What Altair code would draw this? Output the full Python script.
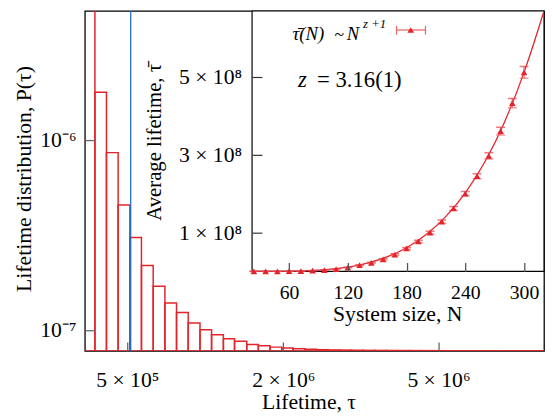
import altair as alt
import pandas as pd

# ---------------- data ----------------
# histogram bin edges (lifetime tau) and heights P(tau) in units of 1e-6
bin_edges = [2.85e5, 3.35e5, 3.89e5, 4.49e5, 5.15e5, 5.86e5, 6.64e5, 7.48e5, 8.38e5, 9.35e5,
             1.04e6, 1.15e6, 1.27e6, 1.39e6, 1.53e6, 1.67e6, 1.82e6, 1.98e6, 2.14e6, 2.32e6,
             2.50e6, 2.70e6, 2.90e6, 3.11e6, 3.33e6, 3.56e6, 3.80e6, 4.05e6, 4.31e6, 4.58e6,
             4.87e6, 5.16e6, 5.47e6, 5.78e6, 6.11e6, 6.45e6, 6.80e6, 7.17e6, 7.55e6, 7.94e6,
             8.34e6]
p_tau_e6 = [2.2, 1.226, 0.94, 0.692, 0.538, 0.405, 0.307, 0.227, 0.182, 0.132,
            0.100, 0.077, 0.058, 0.046, 0.030, 0.024, 0.018, 0.0135, 0.010, 0.0075,
            0.0058, 0.0047, 0.0040, 0.0033, 0.0028, 0.0024, 0.0021, 0.0018, 0.0016, 0.0014,
            0.0012, 0.0011, 0.0010, 0.0009, 0.0008, 0.0007, 0.0007, 0.0006, 0.0006, 0.0005]
blue_line_tau = 5.2e5

# inset: average lifetime vs system size (units of 1e8)
N_sizes = [24, 36, 48, 60, 72, 84, 96, 108, 120, 132, 144, 156,
           168, 180, 192, 204, 216, 228, 240, 252, 264, 276, 288, 300]
tau_mean_e8 = [0.0005, 0.001, 0.003, 0.006, 0.010, 0.020, 0.035, 0.060, 0.100, 0.160, 0.220, 0.310,
               0.430, 0.590, 0.770, 1.000, 1.280, 1.620, 2.000, 2.450, 2.970, 3.610, 4.330, 5.120]
tau_err_e8 = [0.003, 0.003, 0.003, 0.003, 0.003, 0.003, 0.003, 0.008, 0.010, 0.012, 0.015, 0.018,
              0.022, 0.026, 0.030, 0.035, 0.040, 0.048, 0.055, 0.065, 0.080, 0.100, 0.120, 0.150]
fit_N = [22.15, 40, 60, 80, 100, 120, 140, 160, 180, 200, 220, 240, 260, 280, 300, 310, 320.4]
fit_tau_e8 = [0.0003, 0.001, 0.006, 0.021, 0.053, 0.11, 0.215, 0.375, 0.61, 0.95, 1.41, 2.02,
              2.82, 3.84, 5.12, 5.87, 6.70]

x_tick_vals = [5e5, 2e6, 5e6]
x_tick_text = ["5 × 10⁵", "2 × 10⁶", "5 × 10⁶"]
y_tick_vals = [1e-7, 1e-6]
y_tick_text = ["10⁻⁷", "10⁻⁶"]
inset_x_ticks = [60, 120, 180, 240, 300]
inset_y_vals = [1e8, 3e8, 5e8]
inset_y_text = ["1 × 10⁸", "3 × 10⁸", "5 × 10⁸"]

# ---------------- styling ----------------
RED = "#e3242b"
PINK = "#ec6a70"
BLUE = "#1f6fc0"
FONT = "Liberation Serif"
TAU_BAR = "\u03c4\u0304"

W, H = 466, 345
IX0, IY0 = 169.7, 264.3  # inset left edge / bottom edge inside the plot area

XMAIN = alt.Scale(type="pow", exponent=0.36, domain=[2.92e5, 8.13e6], nice=False, zero=False)
YMAIN = alt.Scale(type="linear", domain=[0, 1.6114e-6], nice=False, zero=False)
XIN = alt.Scale(type="linear", domain=[22.15, 320.4], range=[IX0, W], nice=False, zero=False)
YIN = alt.Scale(type="linear", domain=[0, 6.70e8], range=[IY0, 0], nice=False, zero=False)


def lab_expr(vals, texts):
    e = "''"
    for v, t in reversed(list(zip(vals, texts))):
        e = f"abs(datum.value - {v!r}) < {abs(v) * 1e-6!r} ? '{t}' : {e}"
    return e


hist = pd.DataFrame({
    "lo": bin_edges[:-1],
    "hi": bin_edges[1:],
    "p": [v * 1e-6 for v in p_tau_e6],
    "zero": [0.0] * len(p_tau_e6),
})

ins = pd.DataFrame({
    "N": N_sizes,
    "tau": [v * 1e8 for v in tau_mean_e8],
    "lo": [(m - e) * 1e8 for m, e in zip(tau_mean_e8, tau_err_e8)],
    "hi": [(m + e) * 1e8 for m, e in zip(tau_mean_e8, tau_err_e8)],
})
fit = pd.DataFrame({"N": fit_N, "tau": [v * 1e8 for v in fit_tau_e8]})

# ---------------- main histogram ----------------
bars = alt.Chart(hist).mark_rect(
    fill="white", fillOpacity=0, stroke=RED, strokeWidth=1.5, clip=True
).encode(
    x=alt.X("lo:Q", scale=XMAIN, axis=alt.Axis(
        orient="bottom", values=x_tick_vals, labelExpr=lab_expr(x_tick_vals, x_tick_text),
        ticks=False, tickSize=0, domain=False, grid=False, labelPadding=36,
        labelBaseline="alphabetic", title="Lifetime, τ", titleFontSize=22,
        titleX=227, titleY=58.5, titleBaseline="alphabetic", titleAlign="center", zindex=1)),
    x2="hi:Q",
    y=alt.Y("p:Q", scale=YMAIN, axis=alt.Axis(
        orient="left", values=y_tick_vals, labelExpr=lab_expr(y_tick_vals, y_tick_text),
        ticks=False, tickSize=0, domain=False, grid=False, labelPadding=9,
        labelBaseline="middle", title="Lifetime distribution, P(τ)", titleAngle=-90,
        titleFontSize=22, titleX=-55, titleY=170, titleBaseline="alphabetic",
        titleAlign="center", zindex=1)),
    y2="zero:Q",
)

main_ticks = alt.Chart(hist).mark_point(opacity=0, clip=True).encode(
    x=alt.X("lo:Q", scale=XMAIN, axis=alt.Axis(
        orient="top", offset=-H, values=x_tick_vals, labels=False, ticks=True, tickSize=9,
        tickColor="#666666", tickWidth=1.3, domain=False, grid=False, title=None, zindex=1)),
    y=alt.Y("p:Q", scale=YMAIN, axis=alt.Axis(
        orient="right", offset=-W, values=y_tick_vals, labels=False, ticks=True, tickSize=10,
        tickColor="#666666", tickWidth=1.3, domain=False, grid=False, title=None, zindex=1)),
)

blue = alt.Chart(pd.DataFrame({"t": [blue_line_tau]})).mark_rule(
    color=BLUE, strokeWidth=1.3
).encode(x=alt.X("t:Q", scale=XMAIN, axis=None))

# ---------------- inset ----------------
frame = alt.Chart(pd.DataFrame({"x0": [22.15], "x1": [320.4], "y0": [0.0], "y1": [6.70e8]})).mark_rect(
    fill="white", stroke="black", strokeWidth=1.2
).encode(
    x=alt.X("x0:Q", scale=XIN, axis=alt.Axis(
        orient="bottom", offset=-(H - IY0), values=inset_x_ticks, ticks=False, tickSize=0,
        domain=False, grid=False, labelPadding=27.7, labelBaseline="alphabetic",
        labelFontSize=20,
        title="System size, N", titleFontSize=22, titleX=317, titleY=49.9,
        titleBaseline="alphabetic", titleAlign="center", zindex=1)),
    x2="x1:Q",
    y=alt.Y("y0:Q", scale=YIN, axis=alt.Axis(
        orient="left", offset=-IX0, values=inset_y_vals,
        labelExpr=lab_expr(inset_y_vals, inset_y_text), ticks=False, tickSize=0,
        domain=False, grid=False, labelPadding=10.7, labelBaseline="middle",
        title="Average lifetime, " + TAU_BAR, titleFontSize=21, titleAngle=-90,
        titleX=-92.7, titleY=132.8, titleBaseline="alphabetic", titleAlign="center", zindex=1)),
    y2="y1:Q",
)

fit_line = alt.Chart(fit).mark_line(
    color=RED, strokeWidth=1.3, interpolate="monotone", clip=True
).encode(
    x=alt.X("N:Q", scale=XIN, axis=None),
    y=alt.Y("tau:Q", scale=YIN, axis=None),
)

err = alt.Chart(ins).mark_rule(color=PINK, strokeWidth=1.3, clip=True).encode(
    x=alt.X("N:Q", scale=XIN, axis=None),
    y=alt.Y("lo:Q", scale=YIN, axis=None),
    y2="hi:Q",
)
cap_lo = alt.Chart(ins).mark_tick(orient="horizontal", size=9, thickness=1.5, color=PINK, clip=True).encode(
    x=alt.X("N:Q", scale=XIN, axis=None),
    y=alt.Y("lo:Q", scale=YIN, axis=None),
)
cap_hi = alt.Chart(ins).mark_tick(orient="horizontal", size=9, thickness=1.5, color="#e0454c", clip=True).encode(
    x=alt.X("N:Q", scale=XIN, axis=None),
    y=alt.Y("hi:Q", scale=YIN, axis=None),
)

pts = alt.Chart(ins).mark_point(
    shape="triangle-up", filled=True, size=45, color=RED, opacity=1
).encode(
    x=alt.X("N:Q", scale=XIN, axis=alt.Axis(
        orient="top", offset=-IY0, values=inset_x_ticks, labels=False, ticks=True, tickSize=9,
        tickColor="#555555", tickWidth=1.3, domain=False, grid=False, title=None, zindex=1)),
    y=alt.Y("tau:Q", scale=YIN, axis=alt.Axis(
        orient="right", offset=-(W - IX0), values=inset_y_vals, labels=False, ticks=True,
        tickSize=10, tickColor="#333333", tickWidth=1.2, domain=False, grid=False,
        title=None, zindex=1)),
)


# ---------------- inset legend / annotation ----------------
def txt(text, x, y, size, italic=False):
    return alt.Chart(pd.DataFrame({"t": [text]})).mark_text(
        align="left", baseline="alphabetic", font=FONT, fontSize=size,
        fontStyle="italic" if italic else "normal", color="black"
    ).encode(x=alt.value(x), y=alt.value(y), text="t:N")


one = pd.DataFrame({"a": [0]})
leg_line = alt.Chart(one).mark_rule(color=PINK, strokeWidth=1.3).encode(
    x=alt.value(316.3), x2=alt.value(345.7), y=alt.value(19.3))
leg_cap1 = alt.Chart(one).mark_rule(color=PINK, strokeWidth=1.3).encode(
    x=alt.value(316.3), y=alt.value(15), y2=alt.value(24))
leg_cap2 = alt.Chart(one).mark_rule(color=PINK, strokeWidth=1.3).encode(
    x=alt.value(345.7), y=alt.value(15), y2=alt.value(24))
leg_pt = alt.Chart(one).mark_point(shape="triangle-up", filled=True, size=45, color=RED, opacity=1).encode(
    x=alt.value(330.7), y=alt.value(19.3))

annos = [
    txt(TAU_BAR + "(N)", 210.7, 29.3, 19, italic=True),
    txt("~", 253.3, 29.3, 18),
    txt("N", 265.7, 29.3, 19, italic=True),
    txt("z +1", 282.3, 17, 13, italic=True),
    txt("z", 216.3, 77, 23, italic=True),
    txt("= 3.16(1)", 235.7, 77, 23),
]

chart = alt.layer(
    bars, main_ticks, blue, frame, fit_line, err, cap_lo, cap_hi, pts,
    leg_line, leg_cap1, leg_cap2, leg_pt, *annos
).resolve_scale(
    x="independent", y="independent"
).properties(
    width=W, height=H,
    autosize=alt.AutoSizeParams(type="none"),
    padding={"left": 78, "top": 0, "right": 1, "bottom": 62},
    background="white",
).configure_view(
    stroke="black", strokeWidth=1.3
).configure_axis(
    labelFont=FONT, titleFont=FONT, labelFontSize=22, titleFontSize=22,
    labelColor="black", titleColor="black", titleFontWeight="normal",
    labelOverlap=False, labelFlush=False,
)

chart.save("out.html", embed_options={"renderer": "svg", "actions": False})
